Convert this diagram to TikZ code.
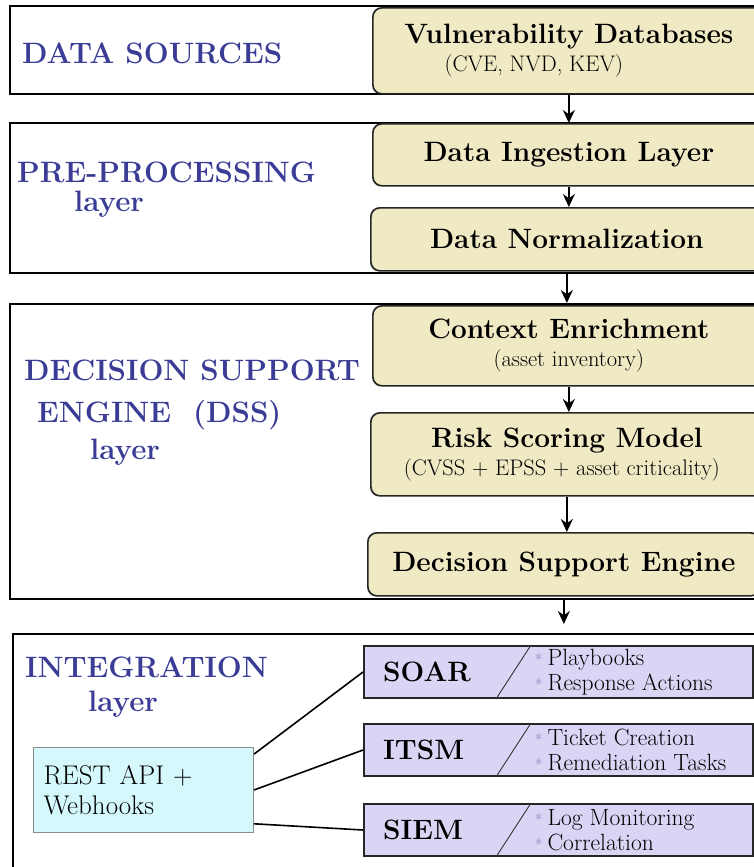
\documentclass[tikz,border=0pt]{standalone}
\usepackage{fontspec}
\usetikzlibrary{arrows.meta,calc}

\definecolor{layerblue}{RGB}{58,60,150}
\definecolor{stagefill}{RGB}{239,233,196}
\definecolor{toolfill}{RGB}{218,213,244}
\definecolor{apifill}{RGB}{212,248,251}

\newcommand{\stagetitle}[1]{{\fontsize{28}{30}\selectfont\bfseries #1}}
\newcommand{\itemstar}{{\color{layerblue!70}\fontsize{16}{16}\selectfont *}\hspace{5pt}}

\tikzset{
  layer/.style={draw=black, line width=2pt, anchor=north west, inner sep=0pt, minimum width=760pt},
  layertext/.style={text=layerblue, font=\fontsize{29.5}{32}\selectfont\bfseries, anchor=west, inner sep=0pt},
  stagebox/.style={draw=black!85, line width=1.7pt, fill=stagefill, rounded corners=9pt,
    anchor=north west, minimum width=392pt, align=center, font=\fontsize{22.5}{28}\selectfont},
  toolbox/.style={draw=black!85, line width=2pt, fill=toolfill, anchor=north west,
    minimum width=389pt, minimum height=52pt},
  toolname/.style={font=\fontsize{28}{30}\selectfont\bfseries, anchor=west, inner sep=0pt},
  toolitems/.style={font=\fontsize{23.5}{25}\selectfont, anchor=west, align=left, inner sep=0pt},
  apibox/.style={draw=black!45, line width=1pt, fill=apifill, anchor=north west, align=left,
    text width=200pt, inner xsep=10pt, minimum height=85pt, font=\fontsize{27}{30}\selectfont},
  flow/.style={-{Stealth[length=13pt,width=12pt]}, line width=1.7pt},
  link/.style={line width=1.6pt},
}

\begin{document}
\begin{tikzpicture}[x=1pt,y=-1pt]
  \path[use as bounding box, fill=white] (0,0) rectangle (753,867);

  % layer frames
  \node[layer, minimum height=88pt] (src) at (9,5) {};
  \node[layer, minimum height=150pt] (pre) at (9,122) {};
  \node[layer, minimum height=295pt] (dss) at (9,303) {};
  \node[layer, minimum height=260pt] (intg) at (12,633) {};

  % layer names
  \node[layertext] (srctitle) at (22,53) {DATA SOURCES};
  \node[layertext] (pretitle) at (17,172) {PRE-PROCESSING};
  \node[layertext] (prelayer) at (74,204) {layer};
  \node[layertext] (dsstitle) at (24,370) {DECISION SUPPORT};
  \node[layertext] (dssengine) at (37,415) {ENGINE\ \ (DSS)};
  \node[layertext] (dsslayer) at (90,452) {layer};
  \node[layertext] (intgtitle) at (25,667) {INTEGRATION};
  \node[layertext] (intglayer) at (88,704) {layer};

  % processing stages
  \node[stagebox, minimum height=86pt] (vdb) at (372,7)
    {\stagetitle{Vulnerability Databases}\\(CVE, NVD, KEV)\hspace*{70pt}};
  \node[stagebox, minimum height=62pt] (ing) at (372,123) {\stagetitle{Data Ingestion Layer}};
  \node[stagebox, minimum height=63pt] (norm) at (370,207) {\stagetitle{Data Normalization}};
  \node[stagebox, minimum height=80pt] (ctx) at (372,305)
    {\stagetitle{Context Enrichment}\\(asset inventory)};
  \node[stagebox, minimum height=83pt] (risk) at (370,412)
    {\stagetitle{Risk Scoring Model}\\(CVSS + EPSS + asset criticality)\hspace*{10pt}};
  \node[stagebox, minimum height=63pt] (dse) at (367,532) {\stagetitle{Decision Support Engine}};

  \draw[flow] (vdb.south) -- (vdb.south |- ing.north);
  \draw[flow] (ing.south) -- (ing.south |- norm.north);
  \draw[flow] (norm.south) -- (norm.south |- dss.north);
  \draw[flow] (ctx.south) -- (ctx.south |- risk.north);
  \draw[flow] (risk.south) -- (risk.south |- dse.north);
  \draw[flow, shorten >=9pt] (dse.south |- dss.south) -- (dse.south |- intg.north);

  % integration targets
  \foreach \tool/\name/\top/\itemA/\itemB in {
      soar/SOAR/645/Playbooks/Response Actions,
      itsm/ITSM/723/Ticket Creation/Remediation Tasks,
      siem/SIEM/803/Log Monitoring/Correlation}{
    \node[toolbox] (\tool) at (363,\top) {};
    \node[toolname] (\tool-name) at ([xshift=20pt]\tool.west) {\name};
    \draw[black!80, line width=0.9pt] ($(\tool.south west)+(133,0)$) -- ($(\tool.north west)+(168,0)$);
    \node[toolitems] (\tool-items) at ($(\tool.west)+(172,0)$) {\itemstar\itemA\\\itemstar\itemB};
  }

  \node[apibox] (api) at (33,747) {REST API +\\Webhooks};
  \draw[link] (api.18) -- (soar.west);
  \draw[link] (api.east) -- (itsm.west);
  \draw[link] (api.-17) -- (siem.west);
\end{tikzpicture}
\end{document}
